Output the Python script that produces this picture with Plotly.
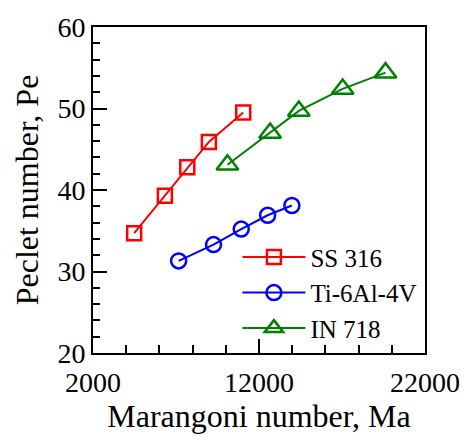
import plotly.graph_objects as go

ss_ma = [4480, 6330, 7680, 8980, 11050]
ss_pe = [34.7, 39.3, 42.8, 45.9, 49.5]
ti_ma = [7160, 9260, 10930, 12520, 13980]
ti_pe = [31.3, 33.3, 35.2, 36.9, 38.1]
in_ma = [10100, 12670, 14400, 17040, 19620]
in_pe = [43.1, 47.0, 49.7, 52.4, 54.4]

FONT = "Liberation Serif"

fig = go.Figure()
fig.add_trace(go.Scatter(x=ss_ma, y=ss_pe, name="SS 316", mode="lines+markers",
                         line=dict(color="#ff0000", width=2),
                         marker=dict(symbol="square-open", size=14, color="#ff0000",
                                     line=dict(width=2.5, color="#ff0000"))))
fig.add_trace(go.Scatter(x=ti_ma, y=ti_pe, name="Ti-6Al-4V", mode="lines+markers",
                         line=dict(color="#0000ff", width=2),
                         marker=dict(symbol="circle-open", size=15, color="#0000ff",
                                     line=dict(width=2.5, color="#0000ff"))))
fig.add_trace(go.Scatter(x=in_ma, y=in_pe, name="IN 718", mode="lines+markers",
                         line=dict(color="#008000", width=2),
                         marker=dict(symbol="triangle-up-open", size=19, color="#008000",
                                     line=dict(width=2.5, color="#008000"))))

axis_common = dict(showline=True, linecolor="black", linewidth=2, mirror=True,
                   ticks="inside", ticklen=14, tickwidth=2, tickcolor="black",
                   showgrid=False, zeroline=False,
                   tickfont=dict(family=FONT, size=28))

fig.update_xaxes(range=[2000, 22000], tick0=2000, dtick=10000, tickformat="d",
                 ticklabelstandoff=3,
                 minor=dict(ticks="inside", dtick=2000, ticklen=8, tickwidth=1.5, tickcolor="black"),
                 title=dict(text="Marangoni number, Ma", font=dict(family=FONT, size=32),
                            standoff=8),
                 **axis_common)
fig.update_yaxes(range=[20, 60], tick0=20, dtick=10,
                 minor=dict(ticks="inside", dtick=2, ticklen=7, tickwidth=1.5, tickcolor="black"),
                 title=dict(text="Peclet number, Pe", font=dict(family=FONT, size=32),
                            standoff=9),
                 **axis_common)

fig.update_layout(
    width=472, height=440,
    margin=dict(l=93, r=43, t=19, b=86),
    plot_bgcolor="white", paper_bgcolor="white",
    font=dict(color="black"),
    legend=dict(x=0.435, y=0.005, xanchor="left", yanchor="bottom",
                bgcolor="rgba(0,0,0,0)", font=dict(family=FONT, size=25),
                itemwidth=63, tracegroupgap=0),
)

fig.write_html("out.html")
